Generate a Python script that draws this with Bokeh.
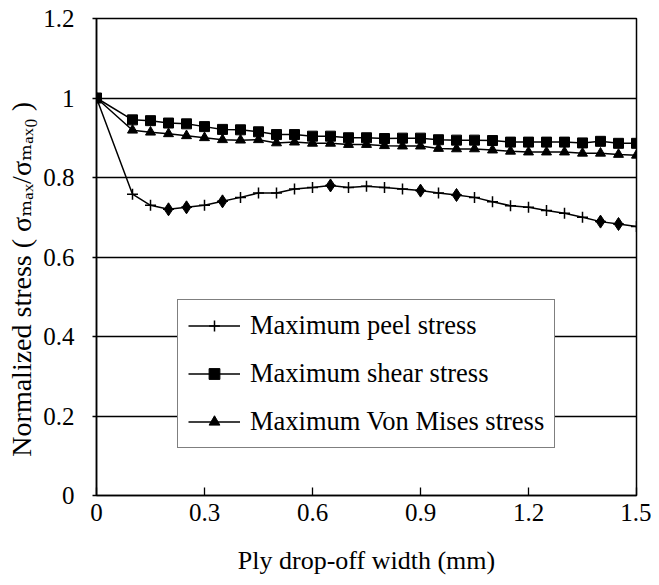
import math
from bokeh.plotting import figure
from bokeh.layouts import row
from bokeh.models import FixedTicker, Legend, LegendItem, Range1d, CustomJSTickFormatter, Label
from bokeh.embed import file_html
from bokeh.resources import INLINE

# ---- data ----
width_mm = [0, 0.1, 0.15, 0.2, 0.25, 0.3, 0.35, 0.4, 0.45, 0.5, 0.55, 0.6, 0.65, 0.7, 0.75,
            0.8, 0.85, 0.9, 0.95, 1.0, 1.05, 1.1, 1.15, 1.2, 1.25, 1.3, 1.35, 1.4, 1.45, 1.5]
peel = [1.0, 0.758, 0.730, 0.720, 0.725, 0.730, 0.740, 0.750, 0.761, 0.761, 0.771, 0.775, 0.780, 0.775, 0.778,
        0.775, 0.771, 0.767, 0.761, 0.756, 0.750, 0.739, 0.729, 0.725, 0.717, 0.710, 0.700, 0.689, 0.683, 0.677]
shear = [1.0, 0.945, 0.943, 0.937, 0.935, 0.928, 0.921, 0.920, 0.915, 0.908, 0.908, 0.904, 0.904, 0.900, 0.900,
         0.898, 0.899, 0.899, 0.895, 0.894, 0.894, 0.893, 0.889, 0.889, 0.889, 0.889, 0.887, 0.891, 0.886, 0.886]
von_mises = [1.0, 0.919, 0.914, 0.910, 0.905, 0.900, 0.895, 0.894, 0.895, 0.887, 0.889, 0.886, 0.886, 0.883, 0.883,
             0.880, 0.879, 0.879, 0.873, 0.872, 0.872, 0.869, 0.866, 0.864, 0.864, 0.864, 0.861, 0.861, 0.858, 0.856]
peel_diamond_x = [0.2, 0.25, 0.35, 0.65, 0.9, 1.0, 1.4, 1.45]
x_ticks = [0, 0.3, 0.6, 0.9, 1.2, 1.5]
y_ticks = [0, 0.2, 0.4, 0.6, 0.8, 1.0, 1.2]
labels = ["Maximum peel stress", "Maximum shear stress", "Maximum Von Mises stress"]
x_title = "Ply drop-off width (mm)"
y_title = "Normalized stress ( σₘₐₓ/σₘₐₓ₀ )"

FONT = "Liberation Serif"
W, H = 651, 577
YW = 40                      # strip that carries the y-axis title
L, R, T, B = 95 - YW, 15, 18, 79

# ---- y-axis title strip ----
ys = figure(width=YW, height=H, x_range=Range1d(0, YW), y_range=Range1d(0, H),
            x_axis_type=None, y_axis_type=None, output_backend="svg", toolbar_location=None,
            min_border=0)
ys.outline_line_color = None
ys.background_fill_color = "white"
ys.border_fill_color = "white"
ys.add_layout(Label(x=21, y=47, text=y_title, angle=math.pi / 2,
                    text_align="left", text_baseline="middle",
                    text_font="Liberation Serif, DejaVu Serif", text_font_size="28px",
                    text_color="black"))

# ---- main plot ----
p = figure(width=W - YW, height=H, x_range=Range1d(0, 1.5), y_range=Range1d(0, 1.2),
           output_backend="svg", toolbar_location=None,
           min_border_left=L, min_border_right=R, min_border_top=T, min_border_bottom=B)
p.background_fill_color = "white"
p.border_fill_color = "white"
p.outline_line_color = "black"
p.outline_line_width = 1.5

p.xgrid.visible = False
p.ygrid.ticker = FixedTicker(ticks=y_ticks)
p.ygrid.grid_line_color = "black"
p.ygrid.grid_line_width = 1.3

fmt = CustomJSTickFormatter(code="return tick.toFixed(1).replace(/\\.0$/, '');")

p.xaxis.ticker = FixedTicker(ticks=x_ticks)
p.xaxis.formatter = fmt
p.xaxis.major_tick_in = 8
p.xaxis.major_tick_out = 0
p.xaxis.minor_tick_line_color = None
p.xaxis.major_label_standoff = 8
p.xaxis.axis_label = x_title
p.xaxis.axis_label_standoff = 22

p.yaxis.ticker = FixedTicker(ticks=y_ticks)
p.yaxis.formatter = fmt
p.yaxis.major_tick_in = 0
p.yaxis.major_tick_out = 4
p.yaxis.minor_tick_line_color = None
p.yaxis.major_label_standoff = 18

for ax in (p.xaxis, p.yaxis):
    ax.axis_line_color = "black"
    ax.axis_line_width = 1.5
    ax.major_tick_line_color = "black"
    ax.major_tick_line_width = 1.3
    ax.major_label_text_font = FONT
    ax.major_label_text_font_size = "25px"
    ax.major_label_text_color = "black"
    ax.axis_label_text_font = FONT
    ax.axis_label_text_font_size = "26px"
    ax.axis_label_text_font_style = "normal"
    ax.axis_label_text_color = "black"

# series
l_peel = p.line(width_mm, peel, line_color="black", line_width=1.5)
m_peel = p.scatter(width_mm, peel, marker="cross", size=11, line_color="black", line_width=1.5)
dia_y = [peel[width_mm.index(v)] for v in peel_diamond_x]
p.scatter(peel_diamond_x, dia_y, marker="diamond", size=13, fill_color="black", line_color="black")

l_vm = p.line(width_mm, von_mises, line_color="black", line_width=1.5)
m_vm = p.scatter(width_mm, von_mises, marker="triangle", size=10, fill_color="black", line_color="black")

l_sh = p.line(width_mm, shear, line_color="black", line_width=1.5)
m_sh = p.scatter(width_mm, shear, marker="square", size=10, fill_color="black", line_color="black")

legend = Legend(items=[LegendItem(label=labels[0], renderers=[l_peel, m_peel]),
                       LegendItem(label=labels[1], renderers=[l_sh, m_sh]),
                       LegendItem(label=labels[2], renderers=[l_vm, m_vm])],
                location=(81, 47))
legend.label_text_font = FONT
legend.label_text_font_size = "26.5px"
legend.label_text_color = "black"
legend.glyph_width = 52
legend.glyph_height = 27
legend.label_height = 27
legend.label_standoff = 10
legend.spacing = 17
legend.padding = 10
legend.margin = 0
legend.border_line_color = "black"
legend.border_line_width = 1.5
legend.background_fill_color = "white"
legend.background_fill_alpha = 1.0
p.add_layout(legend)

layout = row(ys, p, spacing=0)
open("out.html", "w").write(file_html(layout, INLINE))
